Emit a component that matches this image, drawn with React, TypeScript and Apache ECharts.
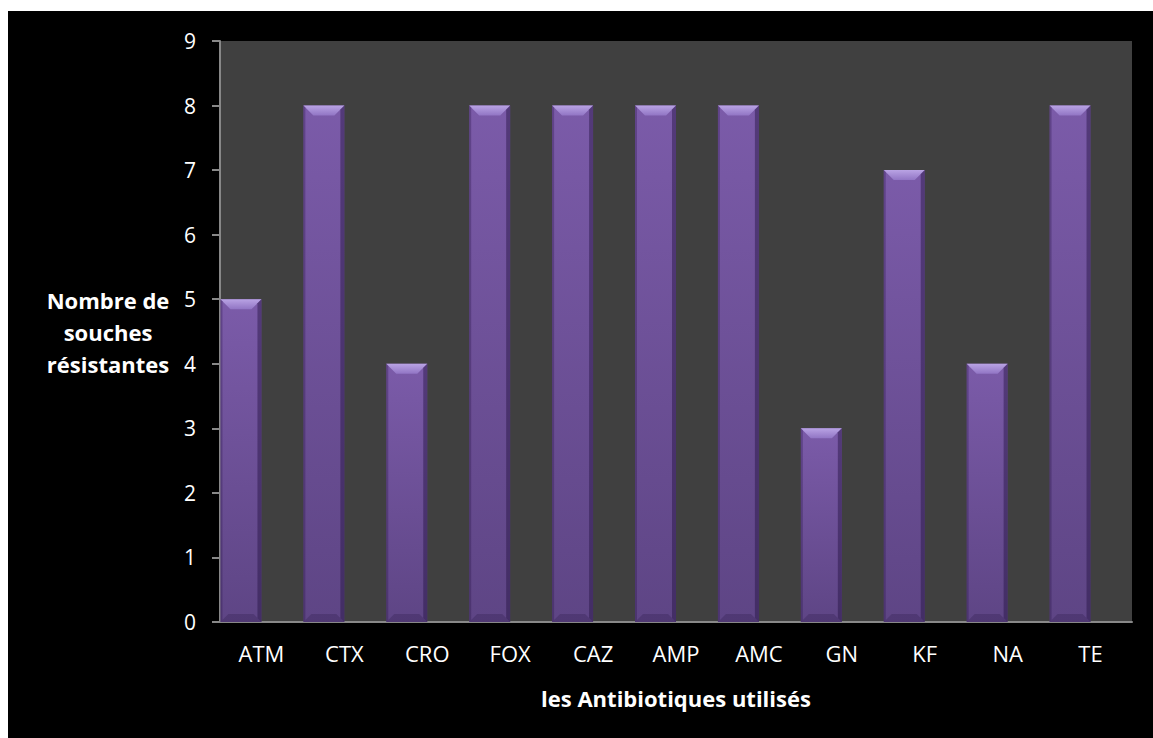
import React, { useEffect, useRef } from "react";
import * as echarts from "echarts";

const categories = ["ATM", "CTX", "CRO", "FOX", "CAZ", "AMP", "AMC", "GN", "KF", "NA", "TE"];
const values = [5, 8, 4, 8, 8, 8, 8, 3, 7, 4, 8];
const yTicks = { min: 0, max: 9, interval: 1 };
const yName = "Nombre de\nsouches\nrésistantes";
const xName = "les Antibiotiques utilisés";

const FONT = "'Open Sans', 'DejaVu Sans', sans-serif";
const BAR_W = 41;

export default function App() {
  const ref = useRef<HTMLDivElement>(null);
  useEffect(() => {
    if (!ref.current) return;
    const chart = echarts.init(ref.current, null, { renderer: "svg" });
    chart.setOption({
      animation: false,
      backgroundColor: "#000000",
      grid: { left: 212, top: 30, width: 912, height: 581, show: true, backgroundColor: "#404040", borderWidth: 0 },
      xAxis: {
        type: "category",
        data: categories,
        name: xName,
        nameLocation: "middle",
        nameGap: 65,
        nameTextStyle: { color: "#ffffff", fontFamily: FONT, fontWeight: "bold", fontSize: 22 },
        axisLine: { show: true, lineStyle: { color: "#888888", width: 2 } },
        axisTick: { show: false },
        axisLabel: { color: "#ffffff", fontFamily: FONT, fontSize: 22, margin: 20 },
        splitLine: { show: false },
      },
      yAxis: {
        type: "value",
        min: yTicks.min,
        max: yTicks.max,
        interval: yTicks.interval,
        name: yName,
        nameLocation: "middle",
        nameRotate: 0,
        nameGap: 112,
        nameTextStyle: { color: "#ffffff", fontFamily: FONT, fontWeight: "bold", fontSize: 22, align: "center", verticalAlign: "middle", lineHeight: 32 },
        axisLine: { show: true, lineStyle: { color: "#888888", width: 2 } },
        axisTick: { show: true, length: 8, lineStyle: { color: "#888888", width: 2 } },
        axisLabel: { color: "#ffffff", fontFamily: FONT, fontSize: 21, margin: 24 },
        splitLine: { show: false },
      },
      series: [
        {
          type: "bar",
          data: values,
          barWidth: BAR_W,
          barGap: "0%",
          itemStyle: {
            color: new echarts.graphic.LinearGradient(0, 0, 0, 1, [
              { offset: 0, color: "#7b5ba9" },
              { offset: 1, color: "#5e4585" },
            ]),
          },
        },
        {
          type: "bar",
          data: values.map(() => null),
          barWidth: BAR_W,
          barGap: "0%",
          silent: true,
        },
        {
          type: "custom",
          silent: true,
          z: 5,
          data: values.map((v, i) => [i, v]),
          encode: { x: 0, y: 1 },
          renderItem: (params: any, api: any) => {
            const i = api.value(0);
            const v = api.value(1);
            const top = api.coord([i, v]);
            const bot = api.coord([i, 0]);
            const x1 = top[0];
            const x0 = x1 - BAR_W;
            const ty = top[1];
            const by = bot[1];
            const b = 10;
            return {
              type: "group",
              children: [
                {
                  type: "polygon",
                  shape: { points: [[x0, ty], [x1, ty], [x1 - b, ty + b], [x0 + b, ty + b]] },
                  style: {
                    fill: new echarts.graphic.LinearGradient(0, 0, 0, 1, [
                      { offset: 0, color: "#b9a3e4" },
                      { offset: 1, color: "#9175c4" },
                    ]),
                  },
                },
                {
                  type: "polygon",
                  shape: { points: [[x1, ty], [x1, by], [x1 - 4, by - 4], [x1 - 4, ty + 4]] },
                  style: { fill: "rgba(35,18,65,0.45)" },
                },
                {
                  type: "polygon",
                  shape: { points: [[x0, ty], [x0 + 2, ty + 2], [x0 + 2, by - 2], [x0, by]] },
                  style: { fill: "rgba(35,18,65,0.3)" },
                },
                {
                  type: "polygon",
                  shape: { points: [[x0, by], [x1, by], [x1 - 8, by - 8], [x0 + 8, by - 8]] },
                  style: { fill: "rgba(35,18,65,0.25)" },
                },
              ],
            };
          },
        },
      ],
    });
    return () => chart.dispose();
  }, []);
  return (
    <div
      ref={ref}
      style={{ position: "absolute", left: 8, top: 11, width: 1145, height: 727 }}
    />
  );
}
